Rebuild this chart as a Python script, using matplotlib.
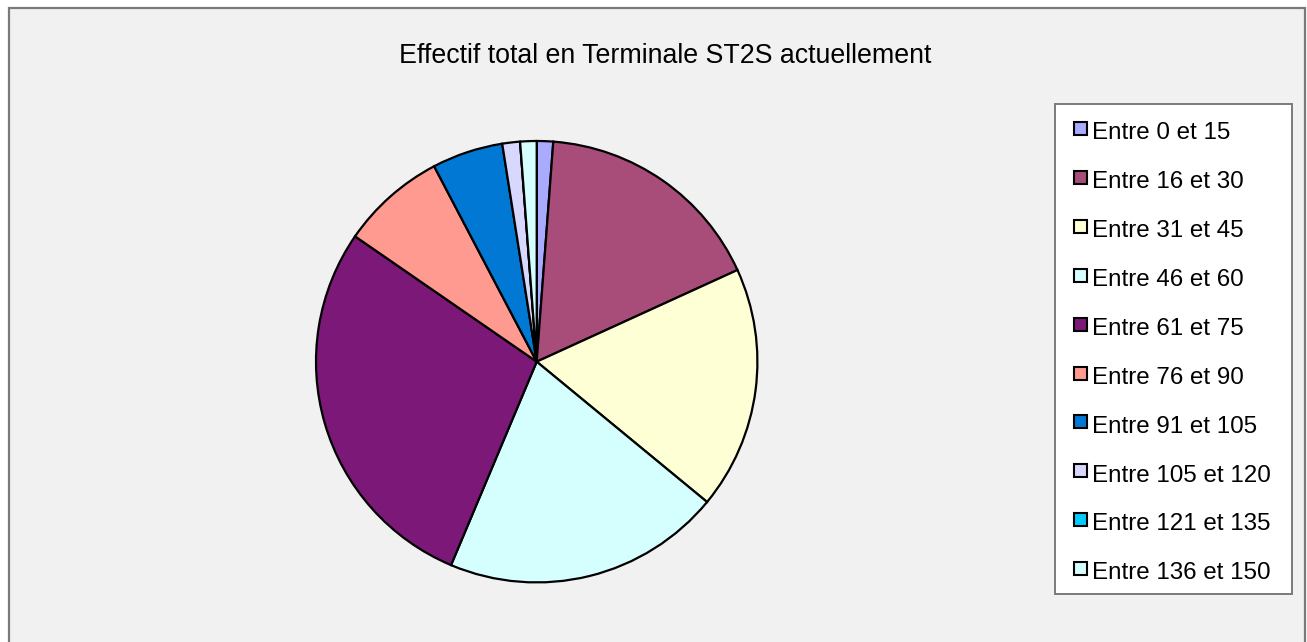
import matplotlib
matplotlib.use("Agg")
import matplotlib.pyplot as plt
from matplotlib.patches import Rectangle

plt.rcParams['font.family'] = ['Liberation Sans', 'DejaVu Sans']

title = "Effectif total en Terminale ST2S actuellement"
categories = ["Entre 0 et 15", "Entre 16 et 30", "Entre 31 et 45", "Entre 46 et 60",
              "Entre 61 et 75", "Entre 76 et 90", "Entre 91 et 105", "Entre 105 et 120",
              "Entre 121 et 135", "Entre 136 et 150"]
values = [1.2, 17.0, 17.8, 20.4, 28.3, 7.7, 5.2, 1.3, 0.0, 1.2]
colors = ["#AAAAFF", "#A84C7A", "#FFFFD5", "#D5FFFF", "#7B1878",
          "#FF9A90", "#0078D4", "#D8D8FF", "#00CCFF", "#D5FFFF"]

W, H = 1307, 642
fig = plt.figure(figsize=(W / 100, H / 100), dpi=100)
fig.patch.set_facecolor("white")

def fx(px):
    return px / W

def fy(py):
    return 1 - py / H

# chart area frame
fig.patches.append(Rectangle((fx(9), fy(650)), fx(1305) - fx(9), fy(8) - fy(650),
                             transform=fig.transFigure, facecolor="#F1F1F1",
                             edgecolor="#7A7A7A", linewidth=1.6, zorder=-10))

# pie axes
cx, cy, r = 536.7, 361.7, 220.7
m = 1.02
ax = fig.add_axes([fx(cx - r * m), fy(cy + r * m), 2 * r * m / W, 2 * r * m / H])
ax.set_zorder(5)
ax.patch.set_alpha(0)
ax.pie(values, colors=colors, startangle=90, counterclock=False, radius=1,
       wedgeprops=dict(edgecolor="black", linewidth=1.6))
ax.set_xlim(-m, m)
ax.set_ylim(-m, m)
ax.set_aspect("equal")
ax.axis("off")

# title
fig.text(fx(665), fy(62.7), title, ha="center", va="baseline", fontsize=19.3, color="black")

# legend
fig.patches.append(Rectangle((fx(1055), fy(593.5)), fx(1291.5) - fx(1055), fy(104) - fy(593.5),
                             transform=fig.transFigure, facecolor="white",
                             edgecolor="#7A7A7A", linewidth=1.4, zorder=1))
for i, (lab, col) in enumerate(zip(categories, colors)):
    yc = 128.5 + i * 48.9
    fig.patches.append(Rectangle((fx(1073.5), fy(yc + 6.5)), 13 / W, 13 / H,
                                 transform=fig.transFigure, facecolor=col,
                                 edgecolor="black", linewidth=1.5, zorder=2))
    fig.text(fx(1092.3), fy(139.3 + i * 48.9), lab, ha="left", va="baseline",
             fontsize=17.4, color="black", zorder=3)

fig.savefig("out.png", dpi=100, facecolor=fig.get_facecolor())
